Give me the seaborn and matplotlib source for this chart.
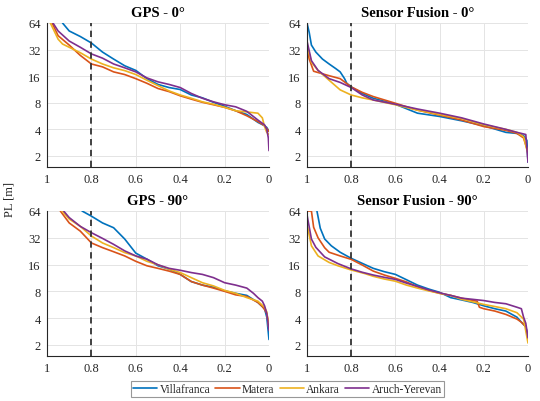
import matplotlib
matplotlib.use("Agg")
import matplotlib.pyplot as plt
from matplotlib.lines import Line2D
from matplotlib.ticker import FixedLocator, FixedFormatter, NullLocator
import pandas as pd
import seaborn as sns

# ---------------------------------------------------------------------------
# Protection level (PL) versus exceedance probability, per test site
# ---------------------------------------------------------------------------
sites = ["Villafranca", "Matera", "Ankara", "Aruch-Yerevan"]
site_colors = ["#0072BD", "#D95319", "#EDB120", "#7E2F8E"]
panel_titles = ["GPS - 0°", "Sensor Fusion - 0°", "GPS - 90°", "Sensor Fusion - 90°"]
x_ticks = [1, 0.8, 0.6, 0.4, 0.2, 0]
x_tick_labels = ["1", "0.8", "0.6", "0.4", "0.2", "0"]
y_ticks = [2, 4, 8, 16, 32, 64]
y_tick_labels = ["2", "4", "8", "16", "32", "64"]
threshold_p = 0.8

# GPS - 0°
gps0_villafranca_p = [0.93, 0.9, 0.85, 0.8, 0.75, 0.7, 0.65, 0.6, 0.55, 0.5, 0.45, 0.4, 0.35, 0.3, 0.25, 0.2, 0.15, 0.1, 0.05, 0.02, 0.01, 0.0]
gps0_villafranca_pl = [64, 52, 45, 38, 30, 25, 21, 18.6, 15, 12.9, 11.9, 11.3, 9.8, 9.1, 8.1, 7.3, 6.5, 5.9, 4.8, 4.4, 4.2, 3.8]
gps0_matera_p = [0.977, 0.95, 0.9, 0.85, 0.8, 0.75, 0.7, 0.65, 0.6, 0.55, 0.5, 0.45, 0.4, 0.35, 0.3, 0.25, 0.2, 0.15, 0.1, 0.05, 0.02, 0.0]
gps0_matera_pl = [64, 46, 36, 27.5, 22, 20.4, 17.9, 16.7, 15, 13.3, 11.6, 10.7, 9.6, 8.8, 8.1, 7.6, 7.1, 6.5, 5.7, 4.9, 4.4, 3.8]
gps0_ankara_p = [0.985, 0.95, 0.93, 0.9, 0.85, 0.8, 0.75, 0.7, 0.65, 0.6, 0.55, 0.5, 0.45, 0.4, 0.35, 0.3, 0.25, 0.2, 0.15, 0.1, 0.05, 0.03, 0.02, 0.01, 0.0]
gps0_ankara_pl = [64, 42, 37, 34, 29.5, 25, 22, 19.9, 18.5, 16.7, 14.4, 12.5, 10.9, 9.8, 9.0, 8.2, 7.7, 7.1, 6.5, 6.3, 6.1, 5.4, 4.3, 3.7, 3.5]
gps0_aruch_p = [0.973, 0.95, 0.9, 0.85, 0.8, 0.75, 0.7, 0.65, 0.6, 0.55, 0.5, 0.45, 0.4, 0.35, 0.3, 0.25, 0.2, 0.15, 0.1, 0.05, 0.02, 0.01, 0.003, 0.0]
gps0_aruch_pl = [64, 52, 40, 34, 28.6, 25.6, 22, 19.9, 17.9, 15.3, 13.8, 12.9, 11.9, 10.2, 9.0, 8.2, 7.6, 7.2, 6.4, 5.1, 4.5, 4.0, 3.2, 2.3]

# Sensor Fusion - 0°
sf0_villafranca_p = [1.0, 0.99, 0.98, 0.96, 0.93, 0.9, 0.87, 0.85, 0.83, 0.82, 0.8, 0.75, 0.7, 0.6, 0.5, 0.4, 0.3, 0.2, 0.1, 0.05, 0.02, 0.005, 0.0]
sf0_villafranca_pl = [64, 50, 36, 30, 25, 22, 19.5, 17.9, 15, 13.3, 12.1, 10.2, 9.0, 7.7, 6.1, 5.6, 5.0, 4.4, 3.7, 3.6, 3.4, 3.0, 1.7]
sf0_matera_p = [1.0, 0.99, 0.97, 0.9, 0.85, 0.8, 0.75, 0.7, 0.6, 0.5, 0.4, 0.3, 0.2, 0.1, 0.05, 0.02, 0.0]
sf0_matera_pl = [33, 25, 18.2, 16.2, 15, 12.1, 10.5, 9.4, 7.9, 6.6, 5.8, 5.1, 4.3, 3.9, 3.6, 3.2, 2.2]
sf0_ankara_p = [1.0, 0.98, 0.95, 0.9, 0.85, 0.8, 0.75, 0.7, 0.6, 0.5, 0.4, 0.3, 0.2, 0.1, 0.05, 0.02, 0.0]
sf0_ankara_pl = [36, 23, 18.6, 14.4, 11.2, 9.8, 9.1, 8.6, 7.6, 6.6, 5.9, 5.3, 4.5, 4.0, 3.7, 3.3, 2.1]
sf0_aruch_p = [1.0, 0.98, 0.95, 0.9, 0.85, 0.8, 0.75, 0.7, 0.6, 0.5, 0.4, 0.3, 0.2, 0.1, 0.05, 0.01, 0.0]
sf0_aruch_pl = [40, 24, 18.6, 15, 13.6, 11.9, 9.8, 8.6, 7.7, 6.8, 6.1, 5.4, 4.6, 4.0, 3.7, 3.5, 1.7]

# GPS - 90°
gps90_villafranca_p = [0.842, 0.8, 0.75, 0.7, 0.65, 0.6, 0.55, 0.5, 0.45, 0.4, 0.35, 0.3, 0.25, 0.2, 0.15, 0.1, 0.05, 0.02, 0.01, 0.0]
gps90_villafranca_pl = [64, 56, 47, 41.5, 31, 21.5, 18.4, 15.5, 14.2, 12.4, 10.3, 9.4, 8.9, 8.1, 7.6, 7.2, 6.0, 5.1, 4.1, 2.3]
gps90_matera_p = [0.94, 0.9, 0.85, 0.8, 0.75, 0.7, 0.65, 0.6, 0.55, 0.5, 0.45, 0.4, 0.35, 0.3, 0.25, 0.2, 0.15, 0.1, 0.05, 0.03, 0.02, 0.01, 0.0]
gps90_matera_pl = [64, 47, 38, 28, 24.8, 22.3, 20, 17.4, 15.5, 14.5, 13.5, 12.4, 10.3, 9.4, 8.7, 8.0, 7.3, 7.0, 6.0, 5.4, 5.0, 4.5, 3.3]
gps90_ankara_p = [0.932, 0.9, 0.85, 0.8, 0.75, 0.7, 0.65, 0.6, 0.55, 0.5, 0.45, 0.4, 0.35, 0.3, 0.25, 0.2, 0.15, 0.1, 0.05, 0.02, 0.01, 0.0]
gps90_ankara_pl = [64, 52, 43, 33.5, 28, 24.8, 21.8, 20, 17.4, 15.9, 14.2, 13, 11.4, 10.0, 9.2, 8.2, 7.6, 6.8, 6.2, 5.3, 4.7, 3.0]
gps90_aruch_p = [0.925, 0.9, 0.85, 0.8, 0.75, 0.7, 0.65, 0.6, 0.55, 0.5, 0.45, 0.4, 0.35, 0.3, 0.25, 0.2, 0.15, 0.1, 0.07, 0.05, 0.03, 0.02, 0.01, 0.0]
gps90_aruch_pl = [64, 54, 43, 36.5, 31.5, 27, 22.8, 20, 18.4, 15.9, 14.5, 13.8, 13, 12.4, 11.4, 10, 9.4, 8.7, 7.6, 6.8, 6.2, 5.5, 4.5, 2.9]

# Sensor Fusion - 90°
sf90_villafranca_p = [0.955, 0.94, 0.92, 0.89, 0.85, 0.8, 0.75, 0.7, 0.65, 0.6, 0.55, 0.5, 0.45, 0.4, 0.35, 0.3, 0.25, 0.2, 0.15, 0.1, 0.05, 0.03, 0.01, 0.0]
sf90_villafranca_pl = [64, 41, 31, 26, 22, 18.8, 16.5, 14.5, 13.3, 12.4, 10.8, 9.4, 8.5, 7.8, 6.8, 6.4, 6.0, 5.5, 5.1, 4.8, 4.1, 3.6, 3.2, 2.5]
sf90_matera_p = [0.995, 0.98, 0.97, 0.95, 0.92, 0.9, 0.85, 0.8, 0.75, 0.7, 0.65, 0.6, 0.55, 0.5, 0.45, 0.4, 0.35, 0.3, 0.25, 0.23, 0.22, 0.2, 0.15, 0.1, 0.05, 0.03, 0.01, 0.0]
sf90_matera_pl = [64, 64, 42, 32, 24.7, 22, 20, 18.3, 15.8, 13.5, 12.2, 11.2, 10.2, 9.0, 8.2, 7.6, 7.2, 6.7, 6.3, 6.2, 5.3, 5.1, 4.8, 4.4, 3.9, 3.6, 3.2, 2.3]
sf90_ankara_p = [0.997, 0.98, 0.95, 0.9, 0.86, 0.8, 0.74, 0.7, 0.65, 0.6, 0.55, 0.5, 0.45, 0.4, 0.35, 0.3, 0.25, 0.2, 0.15, 0.1, 0.05, 0.02, 0.0]
sf90_ankara_pl = [42, 26, 20, 16.9, 15.5, 13.9, 12.7, 11.8, 11.0, 10.4, 9.4, 8.7, 8.1, 7.6, 7.2, 6.5, 6.1, 5.7, 5.4, 5.1, 4.6, 3.9, 2.1]
sf90_aruch_p = [1.0, 0.98, 0.96, 0.92, 0.86, 0.8, 0.75, 0.7, 0.65, 0.6, 0.55, 0.5, 0.45, 0.4, 0.35, 0.3, 0.25, 0.2, 0.15, 0.1, 0.05, 0.03, 0.02, 0.01, 0.0]
sf90_aruch_pl = [58, 31, 25, 19.5, 16.4, 14.3, 13.1, 12.2, 11.5, 10.9, 9.9, 9.1, 8.3, 7.7, 7.2, 6.7, 6.5, 6.3, 6.0, 5.8, 5.3, 5.1, 4.1, 3.5, 2.4]

panel_series = [
    [(gps0_villafranca_p, gps0_villafranca_pl), (gps0_matera_p, gps0_matera_pl),
     (gps0_ankara_p, gps0_ankara_pl), (gps0_aruch_p, gps0_aruch_pl)],
    [(sf0_villafranca_p, sf0_villafranca_pl), (sf0_matera_p, sf0_matera_pl),
     (sf0_ankara_p, sf0_ankara_pl), (sf0_aruch_p, sf0_aruch_pl)],
    [(gps90_villafranca_p, gps90_villafranca_pl), (gps90_matera_p, gps90_matera_pl),
     (gps90_ankara_p, gps90_ankara_pl), (gps90_aruch_p, gps90_aruch_pl)],
    [(sf90_villafranca_p, sf90_villafranca_pl), (sf90_matera_p, sf90_matera_pl),
     (sf90_ankara_p, sf90_ankara_pl), (sf90_aruch_p, sf90_aruch_pl)],
]

# Long-form table for seaborn
rows = []
for title, series in zip(panel_titles, panel_series):
    for site, (p_vals, pl_vals) in zip(sites, series):
        for order, (p, pl) in enumerate(zip(p_vals, pl_vals)):
            rows.append({"panel": title, "site": site, "order": order, "p": p, "PL": pl})
df = pd.DataFrame(rows)

sns.set_theme(style="white")
plt.rcParams["font.family"] = ["Liberation Serif", "DejaVu Serif"]
plt.rcParams["axes.unicode_minus"] = False

fig = plt.figure(figsize=(5.4, 4.02), dpi=100)
fig.patch.set_facecolor("white")

W, H = 540.0, 402.0
# axes boxes in pixels: left, top, right, bottom
boxes = [(47, 24, 269, 168), (307, 24, 528, 168),
         (47, 212, 269, 357), (307, 212, 528, 357)]
text_color = "#262626"

for title, (l, t, r, b) in zip(panel_titles, boxes):
    ax = fig.add_axes([l / W, 1 - b / H, (r - l) / W, (b - t) / H])
    sub = df[df["panel"] == title].sort_values(["site", "order"])
    sns.lineplot(data=sub, x="p", y="PL", hue="site", hue_order=sites,
                 palette=site_colors, estimator=None, sort=False,
                 linewidth=1.2, legend=False, ax=ax)
    ax.axvline(threshold_p, color="#333333", linewidth=1.3,
               linestyle=(0, (3.5, 2.5)), zorder=5)

    ax.set_yscale("log", base=2)
    ax.set_ylim(1.5, 64)
    ax.set_xlim(1, 0)
    ax.xaxis.set_major_locator(FixedLocator(x_ticks))
    ax.xaxis.set_major_formatter(FixedFormatter(x_tick_labels))
    ax.yaxis.set_major_locator(FixedLocator(y_ticks))
    ax.yaxis.set_major_formatter(FixedFormatter(y_tick_labels))
    ax.yaxis.set_minor_locator(NullLocator())
    ax.xaxis.set_minor_locator(NullLocator())

    ax.grid(True, color="#e4e4e4", linewidth=0.7)
    ax.set_axisbelow(True)
    for side in ("top", "right"):
        ax.spines[side].set_visible(False)
    for side in ("left", "bottom"):
        ax.spines[side].set_color(text_color)
        ax.spines[side].set_linewidth(0.8)
    ax.tick_params(axis="both", direction="in", length=3, width=0.7,
                   colors=text_color, labelsize=9, pad=4.5)
    ax.set_xlabel("")
    ax.set_ylabel("")
    ax.set_title(title, fontsize=10.5, fontweight="bold", color="black", pad=5)

fig.text(0.018, 1 - 200 / H, "PL [m]", rotation=90, ha="center", va="center",
         fontsize=9, color=text_color)

handles = [Line2D([0], [0], color=c, linewidth=1.2) for c in site_colors]
leg = fig.legend(handles, sites, loc="center", bbox_to_anchor=(287.5 / W, 1 - 390 / H),
                 ncol=4, frameon=True, fancybox=False, fontsize=8.3,
                 handlelength=2.1, handletextpad=0.2, columnspacing=0.45,
                 borderpad=0.2, borderaxespad=0.0)
leg.get_frame().set_edgecolor("#7f7f7f")
leg.get_frame().set_linewidth(0.8)

fig.savefig("out.png", dpi=100, facecolor="white")
